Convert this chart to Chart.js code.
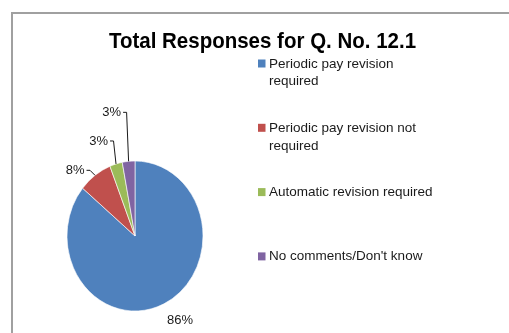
<!DOCTYPE html>
<html>
<head>
<meta charset="utf-8">
<script src="https://cdn.jsdelivr.net/npm/chart.js@4"></script>
<style>
	body { margin: 0; background: #fff; }
	#wrap { position: relative; width: 509px; height: 333px; overflow: hidden; }
</style>
</head>
<body>
<div id="wrap"><canvas id="Chart"></canvas></div>
<script>
/* chart data */
const chartTitle = 'Total Responses for Q. No. 12.1'
const categories = ['Periodic pay revision required', 'Periodic pay revision not required', 'Automatic revision required', "No comments/Don't know"]
const percents = [86, 8, 3, 3]
const sliceColors = ['#4F81BD', '#C0504D', '#9BBB59', '#8064A2']

const fontFamily = '"Liberation Sans", Arial, sans-serif'
// the original picture is a little taller than wide
const stretchY = 75 / 68

/* frame and title */
const framePlugin = {
	id: 'frame',
	beforeDraw(chart) {
		const ctx = chart.ctx
		ctx.save()
		ctx.fillStyle = '#fff'
		ctx.fillRect(0, 0, chart.width, chart.height)
		ctx.strokeStyle = '#a0a0a0'
		ctx.lineWidth = 2
		ctx.strokeRect(12, 13, 600, 400)
		ctx.fillStyle = '#000'
		ctx.font = `bold 20.5px ${fontFamily}`
		ctx.textAlign = 'center'
		ctx.textBaseline = 'alphabetic'
		ctx.translate(262.5, 47.5)
		ctx.scale(1, 1.05)
		ctx.fillText(chartTitle, 0, 0)
		ctx.restore()
	}
}

const stretchPlugin = {
	id: 'stretch',
	beforeDatasetsDraw(chart) {
		const arc = chart.getDatasetMeta(0).data[0]
		const ctx = chart.ctx
		ctx.save()
		ctx.translate(arc.x, arc.y)
		ctx.scale(1, stretchY)
		ctx.translate(-arc.x, -arc.y)
	},
	afterDatasetsDraw(chart) {
		chart.ctx.restore()
	}
}

/* percent labels with leader lines */
const labelPlugin = {
	id: 'sliceLabels',
	afterDraw(chart, args, opts) {
		const ctx = chart.ctx
		const arcs = chart.getDatasetMeta(0).data
		ctx.save()
		ctx.font = `13px ${fontFamily}`
		ctx.fillStyle = '#1a1a1a'
		ctx.strokeStyle = '#1a1a1a'
		ctx.lineWidth = 1
		arcs.forEach((arc, i) => {
			const mid = (arc.startAngle + arc.endAngle) / 2
			const ex = arc.x + arc.outerRadius * Math.cos(mid)
			const ey = arc.y + arc.outerRadius * Math.sin(mid) * stretchY
			const p = opts.place[i]
			const text = `${percents[i]}%`
			if (!p.leader) {
				ctx.textAlign = 'center'
				ctx.textBaseline = 'middle'
				ctx.fillText(text, ex + p.dx, ey + p.dy)
				return
			}
			const bx = ex + p.dx
			const by = ey + p.dy
			ctx.beginPath()
			ctx.moveTo(ex, ey)
			ctx.lineTo(bx, by)
			ctx.lineTo(bx - 3.5, by)
			ctx.stroke()
			ctx.textAlign = 'right'
			ctx.textBaseline = 'middle'
			ctx.fillText(text, bx - 5.5, by)
		})
		ctx.restore()
	}
}

/* legend on the right with wrapped text */
const legendPlugin = {
	id: 'sideLegend',
	afterDraw(chart, args, opts) {
		const ctx = chart.ctx
		ctx.save()
		ctx.font = `13.5px ${fontFamily}`
		ctx.textAlign = 'left'
		ctx.textBaseline = 'alphabetic'
		categories.forEach((label, i) => {
			const y = opts.top + i * opts.step
			ctx.fillStyle = sliceColors[i]
			ctx.fillRect(opts.x, y - 8, 7.5, 8)
			ctx.fillStyle = '#1a1a1a'
			const words = label.split(' ')
			let line = ''
			let ly = y
			words.forEach((w) => {
				const test = line ? `${line} ${w}` : w
				if (line && ctx.measureText(test).width > opts.maxWidth) {
					ctx.fillText(line, opts.x + 11, ly)
					line = w
					ly += 17.8
				} else {
					line = test
				}
			})
			ctx.fillText(line, opts.x + 11, ly)
		})
		ctx.restore()
	}
}

new Chart('Chart', {
	type: 'pie',
	data: {
		labels: categories,
		datasets: [
			{
				data: percents,
				backgroundColor: sliceColors,
				borderColor: '#fff',
				borderWidth: 0.6,
				radius: 68
			}
		]
	},
	options: {
		responsive: true,
		maintainAspectRatio: false,
		animation: false,
		layout: { padding: { left: 0, right: 239, top: 160, bottom: 21 } },
		plugins: {
			legend: { display: false },
			title: { display: false },
			tooltip: { enabled: false },
			sliceLabels: {
				place: [
					{ dx: 16, dy: 17, leader: false },
					{ dx: -5, dy: -5, leader: true },
					{ dx: -2.5, dy: -23, leader: true },
					{ dx: -2, dy: -49, leader: true }
				]
			},
			sideLegend: { x: 258, top: 67.5, step: 64.3, maxWidth: 172 }
		}
	},
	plugins: [framePlugin, stretchPlugin, labelPlugin, legendPlugin]
})
</script>
</body>
</html>
